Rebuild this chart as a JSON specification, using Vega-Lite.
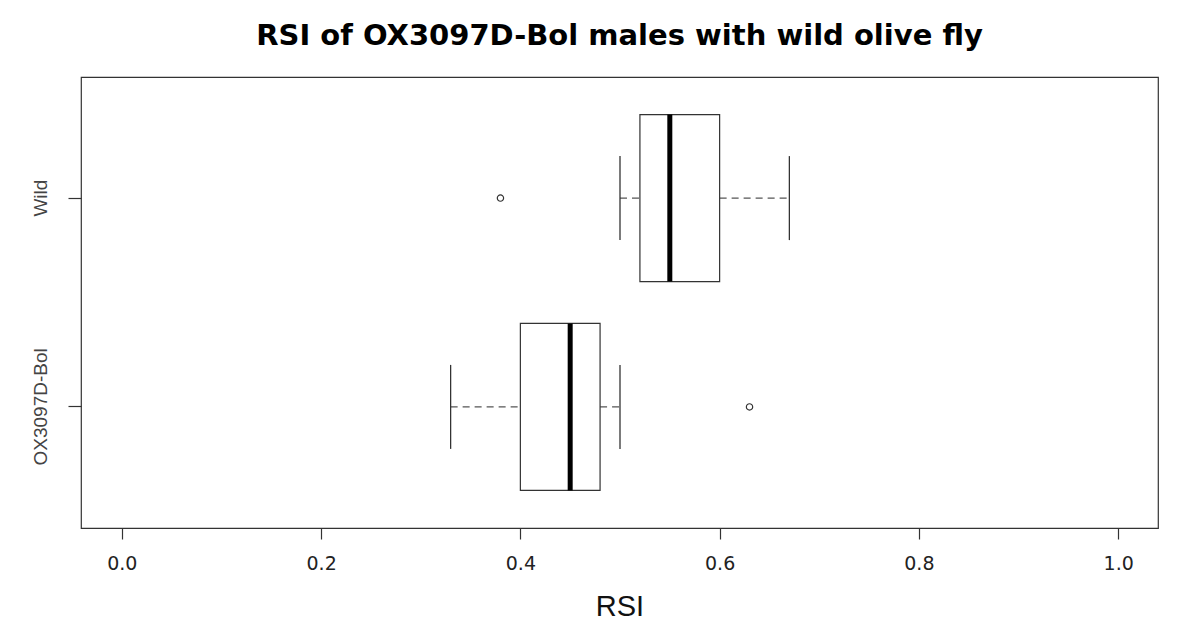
{
  "$schema": "https://vega.github.io/schema/vega-lite/v6.json",
  "autosize": {"type": "none"},
  "padding": {"left": 81, "top": 77, "right": 19, "bottom": 102},
  "width": 1077,
  "height": 451,
  "background": "white",
  "title": {
    "text": "RSI of OX3097D-Bol males with wild olive fly",
    "font": "DejaVu Sans",
    "fontWeight": "bold",
    "fontSize": 29,
    "color": "black",
    "anchor": "middle",
    "frame": "group",
    "baseline": "alphabetic",
    "offset": 3
  },
  "config": {
    "view": {"stroke": "#333", "strokeWidth": 1.2},
    "axis": {"grid": false, "domain": false}
  },
  "datasets": {
    "stats": [
      {"group": "Wild", "lower": 0.50, "q1": 0.52, "median": 0.55, "q3": 0.60, "upper": 0.67},
      {"group": "OX3097D-Bol", "lower": 0.33, "q1": 0.40, "median": 0.45, "q3": 0.48, "upper": 0.50}
    ],
    "outliers": [
      {"group": "Wild", "RSI": 0.38},
      {"group": "OX3097D-Bol", "RSI": 0.63}
    ]
  },
  "encoding": {
    "y": {
      "field": "group",
      "type": "nominal",
      "sort": ["Wild", "OX3097D-Bol"],
      "scale": {"paddingInner": 0.2, "paddingOuter": 0.18},
      "axis": {
        "title": null,
        "labelAngle": -90,
        "labelAlign": "center",
        "labelBaseline": "bottom",
        "labelFont": "Liberation Sans",
        "labelFontSize": 19,
        "labelColor": "#444",
        "labelPadding": 18,
        "tickSize": 13,
        "tickColor": "#333",
        "tickWidth": 1.2
      }
    }
  },
  "layer": [
    {
      "data": {"name": "stats"},
      "mark": {"type": "rule", "strokeDash": [7, 5], "color": "#555", "strokeWidth": 1.3},
      "encoding": {
        "x": {
          "field": "lower",
          "type": "quantitative",
          "scale": {"domain": [-0.041, 1.04], "nice": false, "zero": false},
          "axis": {
            "title": "RSI",
            "titleFont": "Liberation Sans",
            "titleFontSize": 29,
            "titleFontWeight": "normal",
            "titleColor": "#111",
            "titlePadding": 19,
            "values": [0, 0.2, 0.4, 0.6, 0.8, 1.0],
            "format": ".1f",
            "labelFont": "DejaVu Sans",
            "labelFontSize": 19,
            "labelColor": "#222",
            "labelPadding": 15,
            "tickSize": 11,
            "tickColor": "#333",
            "tickWidth": 1.2
          }
        },
        "x2": {"field": "q1"}
      }
    },
    {
      "data": {"name": "stats"},
      "mark": {"type": "rule", "strokeDash": [7, 5], "color": "#555", "strokeWidth": 1.3},
      "encoding": {
        "x": {"field": "q3", "type": "quantitative"},
        "x2": {"field": "upper"}
      }
    },
    {
      "data": {"name": "stats"},
      "mark": {"type": "bar", "fill": "white", "stroke": "#333", "strokeWidth": 1.2},
      "encoding": {
        "x": {"field": "q1", "type": "quantitative"},
        "x2": {"field": "q3"}
      }
    },
    {
      "data": {"name": "stats"},
      "mark": {"type": "tick", "color": "black", "size": 167, "thickness": 5, "opacity": 1},
      "encoding": {
        "x": {"field": "median", "type": "quantitative"}
      }
    },
    {
      "data": {"name": "stats"},
      "mark": {"type": "tick", "color": "#333", "size": 84, "thickness": 1.3, "opacity": 1},
      "encoding": {
        "x": {"field": "lower", "type": "quantitative"}
      }
    },
    {
      "data": {"name": "stats"},
      "mark": {"type": "tick", "color": "#333", "size": 84, "thickness": 1.3, "opacity": 1},
      "encoding": {
        "x": {"field": "upper", "type": "quantitative"}
      }
    },
    {
      "data": {"name": "outliers"},
      "mark": {"type": "point", "shape": "circle", "filled": false, "size": 40, "stroke": "#333", "strokeWidth": 1.2, "opacity": 1},
      "encoding": {
        "x": {"field": "RSI", "type": "quantitative"}
      }
    }
  ]
}
